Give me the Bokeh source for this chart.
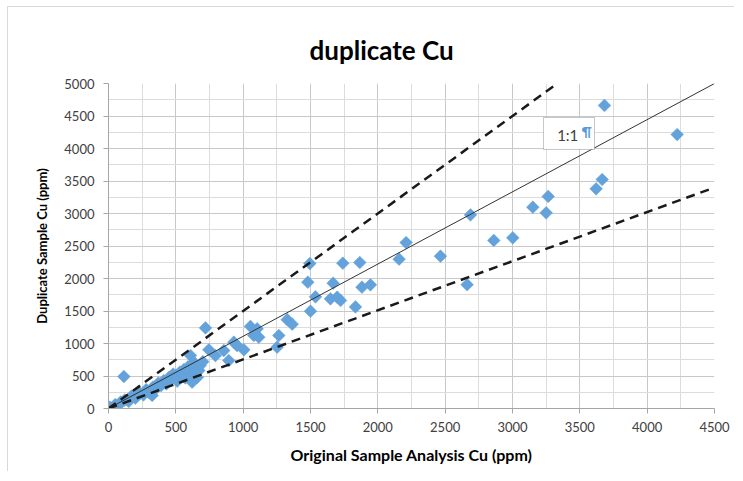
import math
from bokeh.plotting import figure
from bokeh.models import Range1d, FixedTicker, BoxAnnotation, Label, ColumnDataSource
from bokeh.embed import file_html
from bokeh.resources import INLINE

# ---- data ----
orig_cu = [10, 30, 50, 70, 90, 114, 120, 150, 170, 200, 230, 260, 280, 300, 324, 330, 350,
           370, 390, 410, 430, 450, 460, 480, 500, 510, 530, 550, 560, 570, 590, 600, 609,
           621, 634, 640, 646, 660, 671, 680, 700,
           720, 745, 794, 856, 893, 931, 955, 1005, 1054, 1079, 1104, 1116, 1252, 1265,
           1327, 1364,
           1480, 1495, 1500, 1537, 1648, 1668, 1698, 1723, 1740, 1834, 1866, 1882, 1945,
           2158, 2210, 2465, 2663, 2688, 2861, 3002,
           3151, 3250, 3265, 3621, 3666, 3683, 4223]
dup_cu = [20, 10, 60, 40, 100, 492, 130, 110, 190, 160, 240, 210, 290, 250, 200, 330, 300,
          390, 350, 430, 380, 480, 440, 530, 500, 420, 560, 520, 600, 470, 640, 560, 815,
          405, 712, 620, 538, 480, 585, 660, 720,
          1240, 903, 815, 892, 738, 1020, 969, 903, 1262, 1123, 1226, 1097, 943, 1123,
          1367, 1298,
          1943, 2230, 1497, 1718, 1687, 1928, 1713, 1662, 2235, 1563, 2246, 1867, 1903,
          2298, 2552, 2343, 1905, 2979, 2585, 2626,
          3097, 3010, 3262, 3380, 3523, 4662, 4215]

# reference lines as drawn (start, end points)
ref_solid_x = [0, 4500]
ref_solid_y = [0, 5000]
ref_upper_x = [0, 3333]
ref_upper_y = [0, 5000]
ref_lower_x = [0, 4500]
ref_lower_y = [0, 3400]

x_ticks = [0, 500, 1000, 1500, 2000, 2500, 3000, 3500, 4000, 4500]
y_ticks = [0, 500, 1000, 1500, 2000, 2500, 3000, 3500, 4000, 4500, 5000]
x_minor = [250, 750, 1250, 1750, 2250, 2750, 3250, 3750, 4250]
y_minor = [250, 750, 1250, 1750, 2250, 2750, 3250, 3750, 4250, 4750]

title_text = "duplicate Cu"
x_label = "Original Sample Analysis Cu (ppm)"
y_label = "Duplicate Sample Cu (ppm)"
box_text = "1:1"

FONT = "Lato"

p = figure(width=727, height=465, output_backend="svg", toolbar_location=None,
           x_range=Range1d(0, 4500), y_range=Range1d(0, 5000),
           min_border_left=100, min_border_right=21, min_border_top=76, min_border_bottom=64)

p.title.text = title_text
p.title.align = "left"
p.title.offset = 201
p.title.text_font = FONT
p.title.text_font_size = "26px"
p.title.text_font_style = "bold"
p.title.text_color = "#000000"
p.title.standoff = 35

p.outline_line_color = None
p.background_fill_color = "white"
p.border_fill_color = "white"

for ax, ticks, minor in ((p.xaxis[0], x_ticks, x_minor), (p.yaxis[0], y_ticks, y_minor)):
    ax.ticker = FixedTicker(ticks=ticks, minor_ticks=minor)
    ax.major_label_text_font = FONT
    ax.major_label_text_font_size = "13px"
    ax.major_label_text_color = "#404040"
    ax.axis_label_text_font = FONT
    ax.axis_label_text_font_style = "bold"
    ax.axis_label_text_color = "#000000"
    ax.axis_line_color = "#a6a6a6"
    ax.major_tick_line_color = "#a6a6a6"
    ax.major_tick_out = 5
    ax.major_tick_in = 0
    ax.minor_tick_out = 0
    ax.minor_tick_in = 0

p.xaxis.axis_label = x_label
p.yaxis.axis_label = y_label
p.xaxis.axis_label_text_font_size = "16px"
p.yaxis.axis_label_text_font_size = "13px"
p.xaxis.major_label_standoff = 8
p.xaxis.axis_label_standoff = 10
p.yaxis.major_label_standoff = 9
p.yaxis.axis_label_standoff = 11

for g in (p.xgrid[0], p.ygrid[0]):
    g.grid_line_color = "#c8c8c8"
    g.minor_grid_line_color = "#dcdcdc"
    g.grid_line_width = 1
    g.minor_grid_line_width = 1

src = ColumnDataSource(dict(x=orig_cu, y=dup_cu))
p.scatter("x", "y", source=src, marker="square", size=9, angle=math.pi / 4,
          fill_color="#63A2DA", line_color="#63A2DA", line_width=0.5)

p.line(ref_solid_x, ref_solid_y, line_color="#333333", line_width=1)
p.line(ref_upper_x, ref_upper_y, line_color="#1a1a1a", line_width=2.5, line_dash="9 6")
p.line(ref_lower_x, ref_lower_y, line_color="#1a1a1a", line_width=2.5, line_dash="9 6")

p.add_layout(BoxAnnotation(left=3230, right=3609, bottom=3985, top=4477,
                           fill_color="white", fill_alpha=1.0,
                           line_color="#444444", line_width=1, level="overlay"))
p.add_layout(Label(x=3410, y=4215, text=box_text, text_font=FONT, text_font_size="15px",
                   text_color="#404040", text_align="center", text_baseline="middle",
                   level="overlay"))
p.add_layout(Label(x=3550, y=4260, text="\u00b6", text_font=FONT, text_font_size="14px",
                   text_font_style="bold", text_color="#5B9BD5", text_align="center",
                   text_baseline="middle", level="overlay"))

p.styles = {"margin-left": "7px", "margin-top": "6px",
            "border-left": "1px solid #d9d9d9", "border-top": "1px solid #d9d9d9"}

open("out.html", "w").write(file_html(p, INLINE))
